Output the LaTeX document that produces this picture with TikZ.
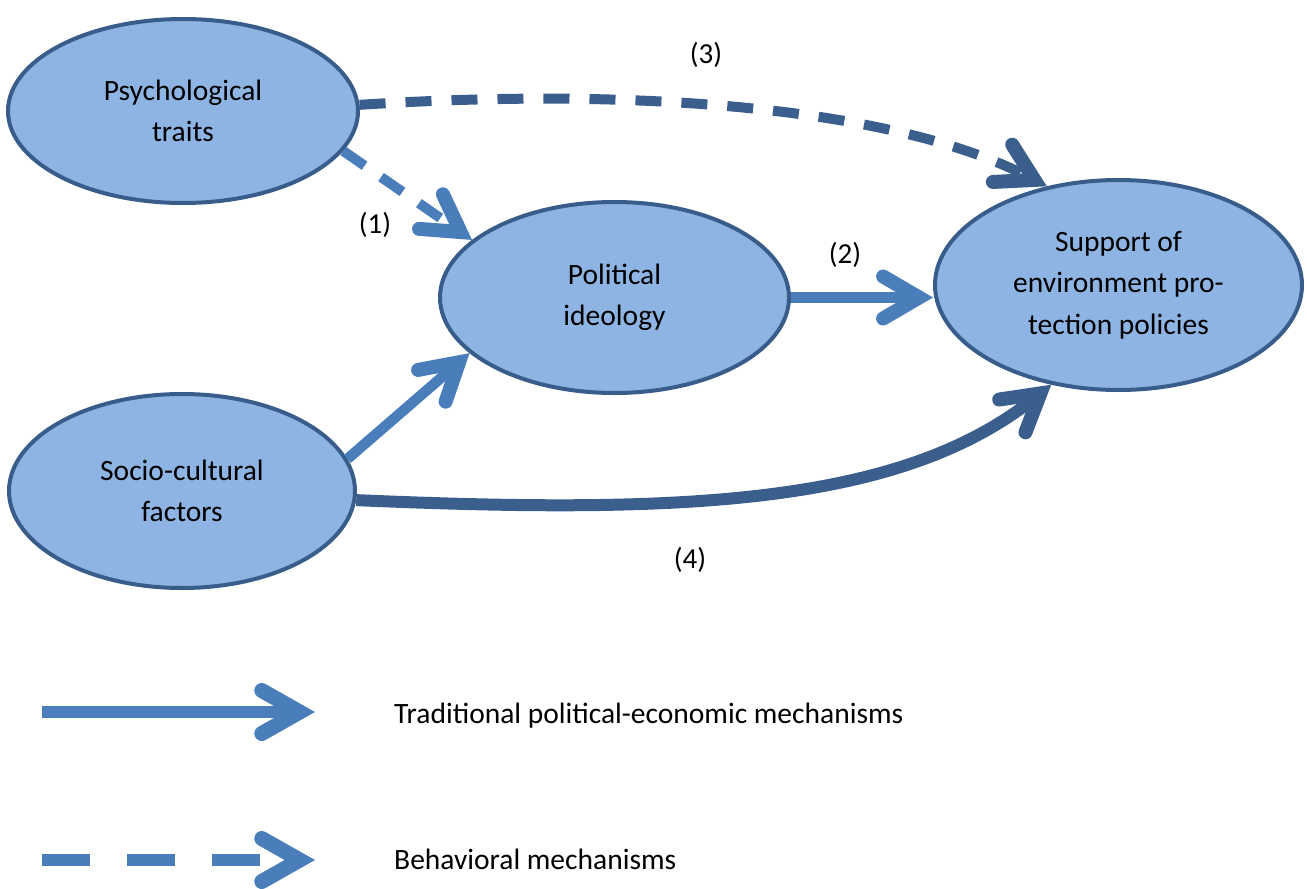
\documentclass[tikz,border=0pt]{standalone}
\usepackage{fontspec}
\setmainfont{Carlito}
\usetikzlibrary{shapes.geometric,arrows.meta}
\definecolor{fillblue}{HTML}{8EB4E3}
\definecolor{edgeblue}{HTML}{385D8A}
\definecolor{lightarrow}{HTML}{4A7EBB}
\definecolor{darkarrow}{HTML}{3A5F8C}
\begin{document}
\begin{tikzpicture}[x=1pt,y=-1pt,
  bubble/.style={ellipse, draw=edgeblue, fill=fillblue, line width=4pt, inner sep=0pt, align=center, font=\fontsize{29.5}{41.5}\selectfont},
  lbl/.style={font=\fontsize{29}{34}\selectfont, inner sep=0pt},
  legtext/.style={font=\fontsize{29.5}{34}\selectfont, inner sep=0pt, anchor=west},
  tip/.style={-{Straight Barb[length=36pt,width=42pt,line width=14pt,line cap=round,line join=miter]}},
  arr/.style={line width=10.5pt, tip},
  dasharr/.style={arr, line width=10pt, dash pattern=on 26pt off 20pt},
  legarr/.style={line width=12pt, -{Straight Barb[length=38pt,width=43pt,line width=15pt,line cap=round,line join=miter]}},
  legdash/.style={legarr, dash pattern=on 48pt off 37pt}
]
\useasboundingbox (0,0) rectangle (1307,889);

\node[bubble, minimum width=350pt, minimum height=184pt] (psy) at (183,111) {Psychological\\traits};
\node[bubble, minimum width=349pt, minimum height=191pt] (pol) at (614.5,297.5) {Political\\ideology};
\node[bubble, minimum width=367pt, minimum height=210pt] (sup) at (1118.5,285) {Support of\\environment pro-\\tection policies};
\node[bubble, minimum width=346pt, minimum height=194pt] (soc) at (182,491) {Socio-cultural\\factors};

\draw[dasharr, lightarrow] (psy.-14.6) -- (pol.158.3);
\draw[arr, lightarrow] (pol.east) -- (pol.east -| sup.west);
\draw[arr, lightarrow] (soc.11.6) -- (pol.201.7);
\draw[dasharr, darkarrow] (psy.2.6) .. controls (650,86) and (900,110) .. (sup.126.2);
\draw[arr, darkarrow, line width=12pt] (soc.-3) .. controls (680,514) and (900,506) .. (sup.236);

\node[lbl] (n1) at (375,225) {(1)};
\node[lbl] (n2) at (845,255) {(2)};
\node[lbl] (n3) at (706,55) {(3)};
\node[lbl] (n4) at (690,560) {(4)};

\coordinate (l1s) at (42,712);
\coordinate (l1e) at (315,712);
\coordinate (l2s) at (42,860);
\coordinate (l2e) at (315,860);
\draw[legarr, lightarrow] (l1s) -- (l1e);
\draw[legdash, lightarrow] (l2s) -- (l2e);
\node[legtext] (t1) at (394,716) {Traditional political-economic mechanisms};
\node[legtext] (t2) at (394,859) {Behavioral mechanisms};
\end{tikzpicture}
\end{document}
